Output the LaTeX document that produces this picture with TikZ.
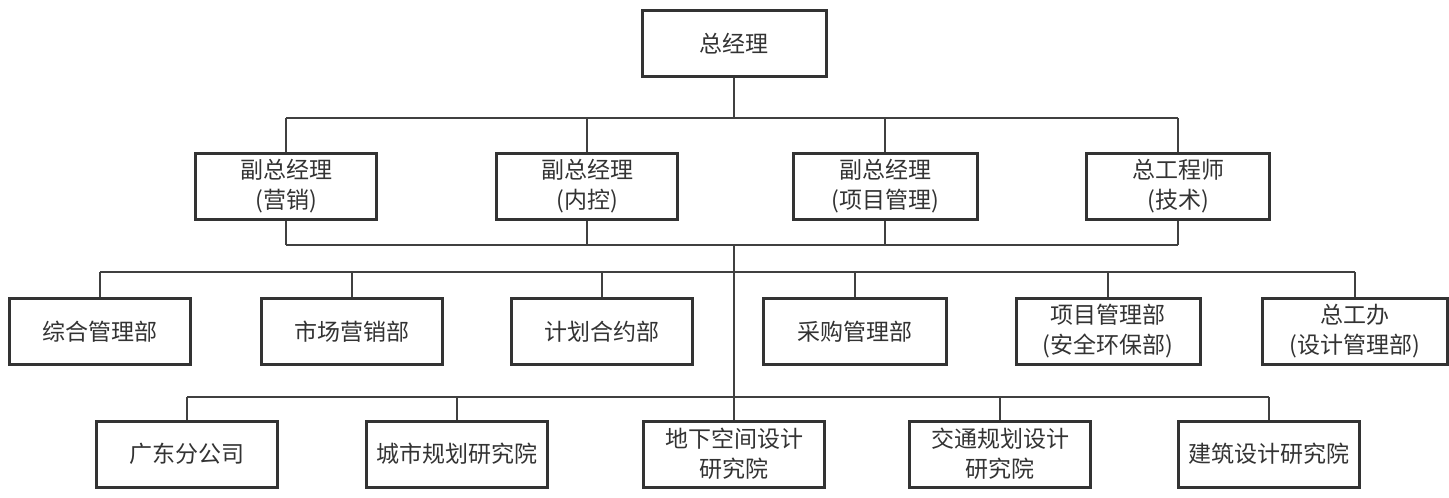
\documentclass[tikz,border=0pt]{standalone}
\usepackage{fontspec}
\setmainfont{Noto Sans CJK SC}
\begin{document}
\begin{tikzpicture}[x=1pt,y=-1pt,
  box/.style={draw=black!80, line width=3pt, fill=white, minimum width=181pt, minimum height=66pt,
    inner sep=0pt, align=center, text=black!80, font=\fontsize{23}{30}\selectfont},
  conn/.style={draw=black!75, line width=1.4pt}]
\useasboundingbox (0,0) rectangle (1449,498);
% level 1
\node[box, minimum width=184pt] (top) at (734,43.5) {总经理};
% level 2
\node[box] (v1) at (286,186.5) {副总经理\\(营销)};
\node[box] (v2) at (587,186.5) {副总经理\\(内控)};
\node[box, minimum width=184pt] (v3) at (885,186.5) {副总经理\\(项目管理)};
\node[box, minimum width=183pt] (v4) at (1178,186.5) {总工程师\\(技术)};
% level 3
\node[box] (d1) at (100,331.5) {综合管理部};
\node[box] (d2) at (352,331.5) {市场营销部};
\node[box] (d3) at (602,331.5) {计划合约部};
\node[box, minimum width=183pt] (d4) at (855,331.5) {采购管理部};
\node[box, minimum width=184pt] (d5) at (1108,331.5) {项目管理部\\(安全环保部)};
\node[box, minimum width=185pt] (d6) at (1355,331.5) {总工办\\(设计管理部)};
% level 4
\node[box] (s1) at (187,454) {广东分公司};
\node[box] (s2) at (457,454) {城市规划研究院};
\node[box] (s3) at (734,454) {地下空间设计\\研究院};
\node[box] (s4) at (1000,454) {交通规划设计\\研究院};
\node[box] (s5) at (1269,454) {建筑设计研究院};
% bus coordinates
\coordinate (b1) at (734,118);
\coordinate (b2) at (734,245);
\coordinate (b3) at (734,272);
\coordinate (b4) at (734,397);
% connectors
\draw[conn] (top.south) -- (b1);
\draw[conn] (v1.north |- b1) -- (v4.north |- b1);
\foreach \n in {v1,v2,v3,v4} \draw[conn] (\n.north) -- (\n.north |- b1);
\foreach \n in {v1,v2,v3,v4} \draw[conn] (\n.south) -- (\n.south |- b2);
\draw[conn] (v1.south |- b2) -- (v4.south |- b2);
\draw[conn] (b2) -- (s3.north);
\draw[conn] (d1.north |- b3) -- (d6.north |- b3);
\foreach \n in {d1,d2,d3,d4,d5,d6} \draw[conn] (\n.north) -- (\n.north |- b3);
\draw[conn] (s1.north |- b4) -- (s5.north |- b4);
\foreach \n in {s1,s2,s4,s5} \draw[conn] (\n.north) -- (\n.north |- b4);
\end{tikzpicture}
\end{document}
